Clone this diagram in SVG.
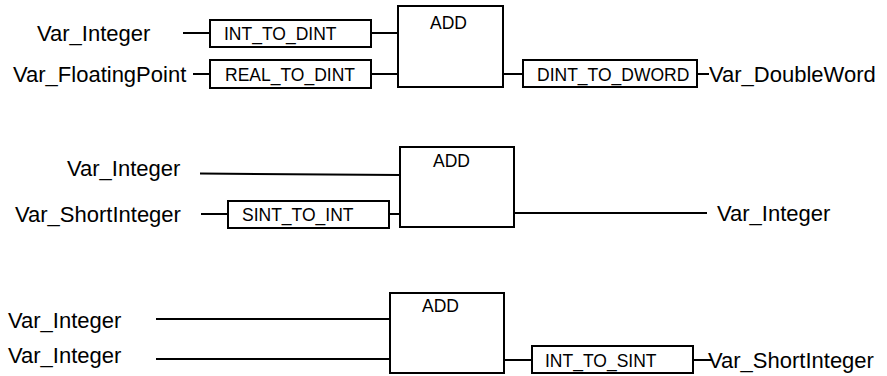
<svg xmlns="http://www.w3.org/2000/svg" width="887" height="376" viewBox="0 0 887 376">
<style>
.box{fill:#fff;stroke:#000;stroke-width:2}
.w{stroke:#000;stroke-width:2;fill:none}
.v{font-family:"Liberation Sans",Arial,sans-serif;font-size:22px;fill:#000}
.l{font-family:"Liberation Sans",Arial,sans-serif;font-size:17.5px;fill:#000}
</style>
<rect width="887" height="376" fill="#fff"/>
<g id="connectors">
<line class="w" x1="183" y1="33" x2="210" y2="33"/>
<line class="w" x1="193" y1="74" x2="210" y2="74"/>
<line class="w" x1="371" y1="33" x2="398" y2="33"/>
<line class="w" x1="371" y1="74" x2="398" y2="74"/>
<line class="w" x1="503" y1="74" x2="523" y2="74"/>
<line class="w" x1="697" y1="74" x2="709" y2="74"/>
<line class="w" x1="200" y1="173.5" x2="400" y2="175"/>
<line class="w" x1="201" y1="214" x2="228" y2="214"/>
<line class="w" x1="389" y1="214" x2="400" y2="214"/>
<line class="w" x1="514" y1="213" x2="707" y2="213"/>
<line class="w" x1="156" y1="319" x2="390" y2="319"/>
<line class="w" x1="156" y1="359" x2="390" y2="359"/>
<line class="w" x1="504" y1="360" x2="532" y2="360"/>
<line class="w" x1="693" y1="360" x2="712" y2="360"/>
</g>
<g id="var_integer_1"><text class="v" x="37" y="41">Var_Integer</text></g>
<g id="var_floatingpoint"><text class="v" x="13" y="82">Var_FloatingPoint</text></g>
<g id="int_to_dint"><rect class="box" x="210" y="20" width="161" height="27"/><text class="l" x="224" y="40">INT_TO_DINT</text></g>
<g id="real_to_dint"><rect class="box" x="210" y="60" width="161" height="28"/><text class="l" x="225" y="81">REAL_TO_DINT</text></g>
<g id="add_1"><rect class="box" x="398" y="6" width="105" height="81"/><text class="l" x="430" y="29">ADD</text></g>
<g id="dint_to_dword"><rect class="box" x="523" y="60" width="174" height="27"/><text class="l" x="537" y="81">DINT_TO_DWORD</text></g>
<g id="var_doubleword"><text class="v" x="709" y="82">Var_DoubleWord</text></g>

<g id="var_integer_2"><text class="v" x="67" y="176">Var_Integer</text></g>
<g id="var_shortinteger_1"><text class="v" x="15" y="222">Var_ShortInteger</text></g>
<g id="sint_to_int"><rect class="box" x="228" y="201" width="161" height="27"/><text class="l" x="242" y="221">SINT_TO_INT</text></g>
<g id="add_2"><rect class="box" x="400" y="147" width="114" height="80"/><text class="l" x="433" y="167">ADD</text></g>
<g id="var_integer_out"><text class="v" x="717" y="221">Var_Integer</text></g>

<g id="var_integer_3"><text class="v" x="8" y="328">Var_Integer</text></g>
<g id="var_integer_4"><text class="v" x="8" y="363">Var_Integer</text></g>
<g id="add_3"><rect class="box" x="390" y="293" width="114" height="80"/><text class="l" x="422" y="312">ADD</text></g>
<g id="int_to_sint"><rect class="box" x="532" y="346" width="161" height="27"/><text class="l" x="545" y="367">INT_TO_SINT</text></g>
<g id="var_shortinteger_out"><text class="v" x="708" y="368">Var_ShortInteger</text></g>
</svg>
